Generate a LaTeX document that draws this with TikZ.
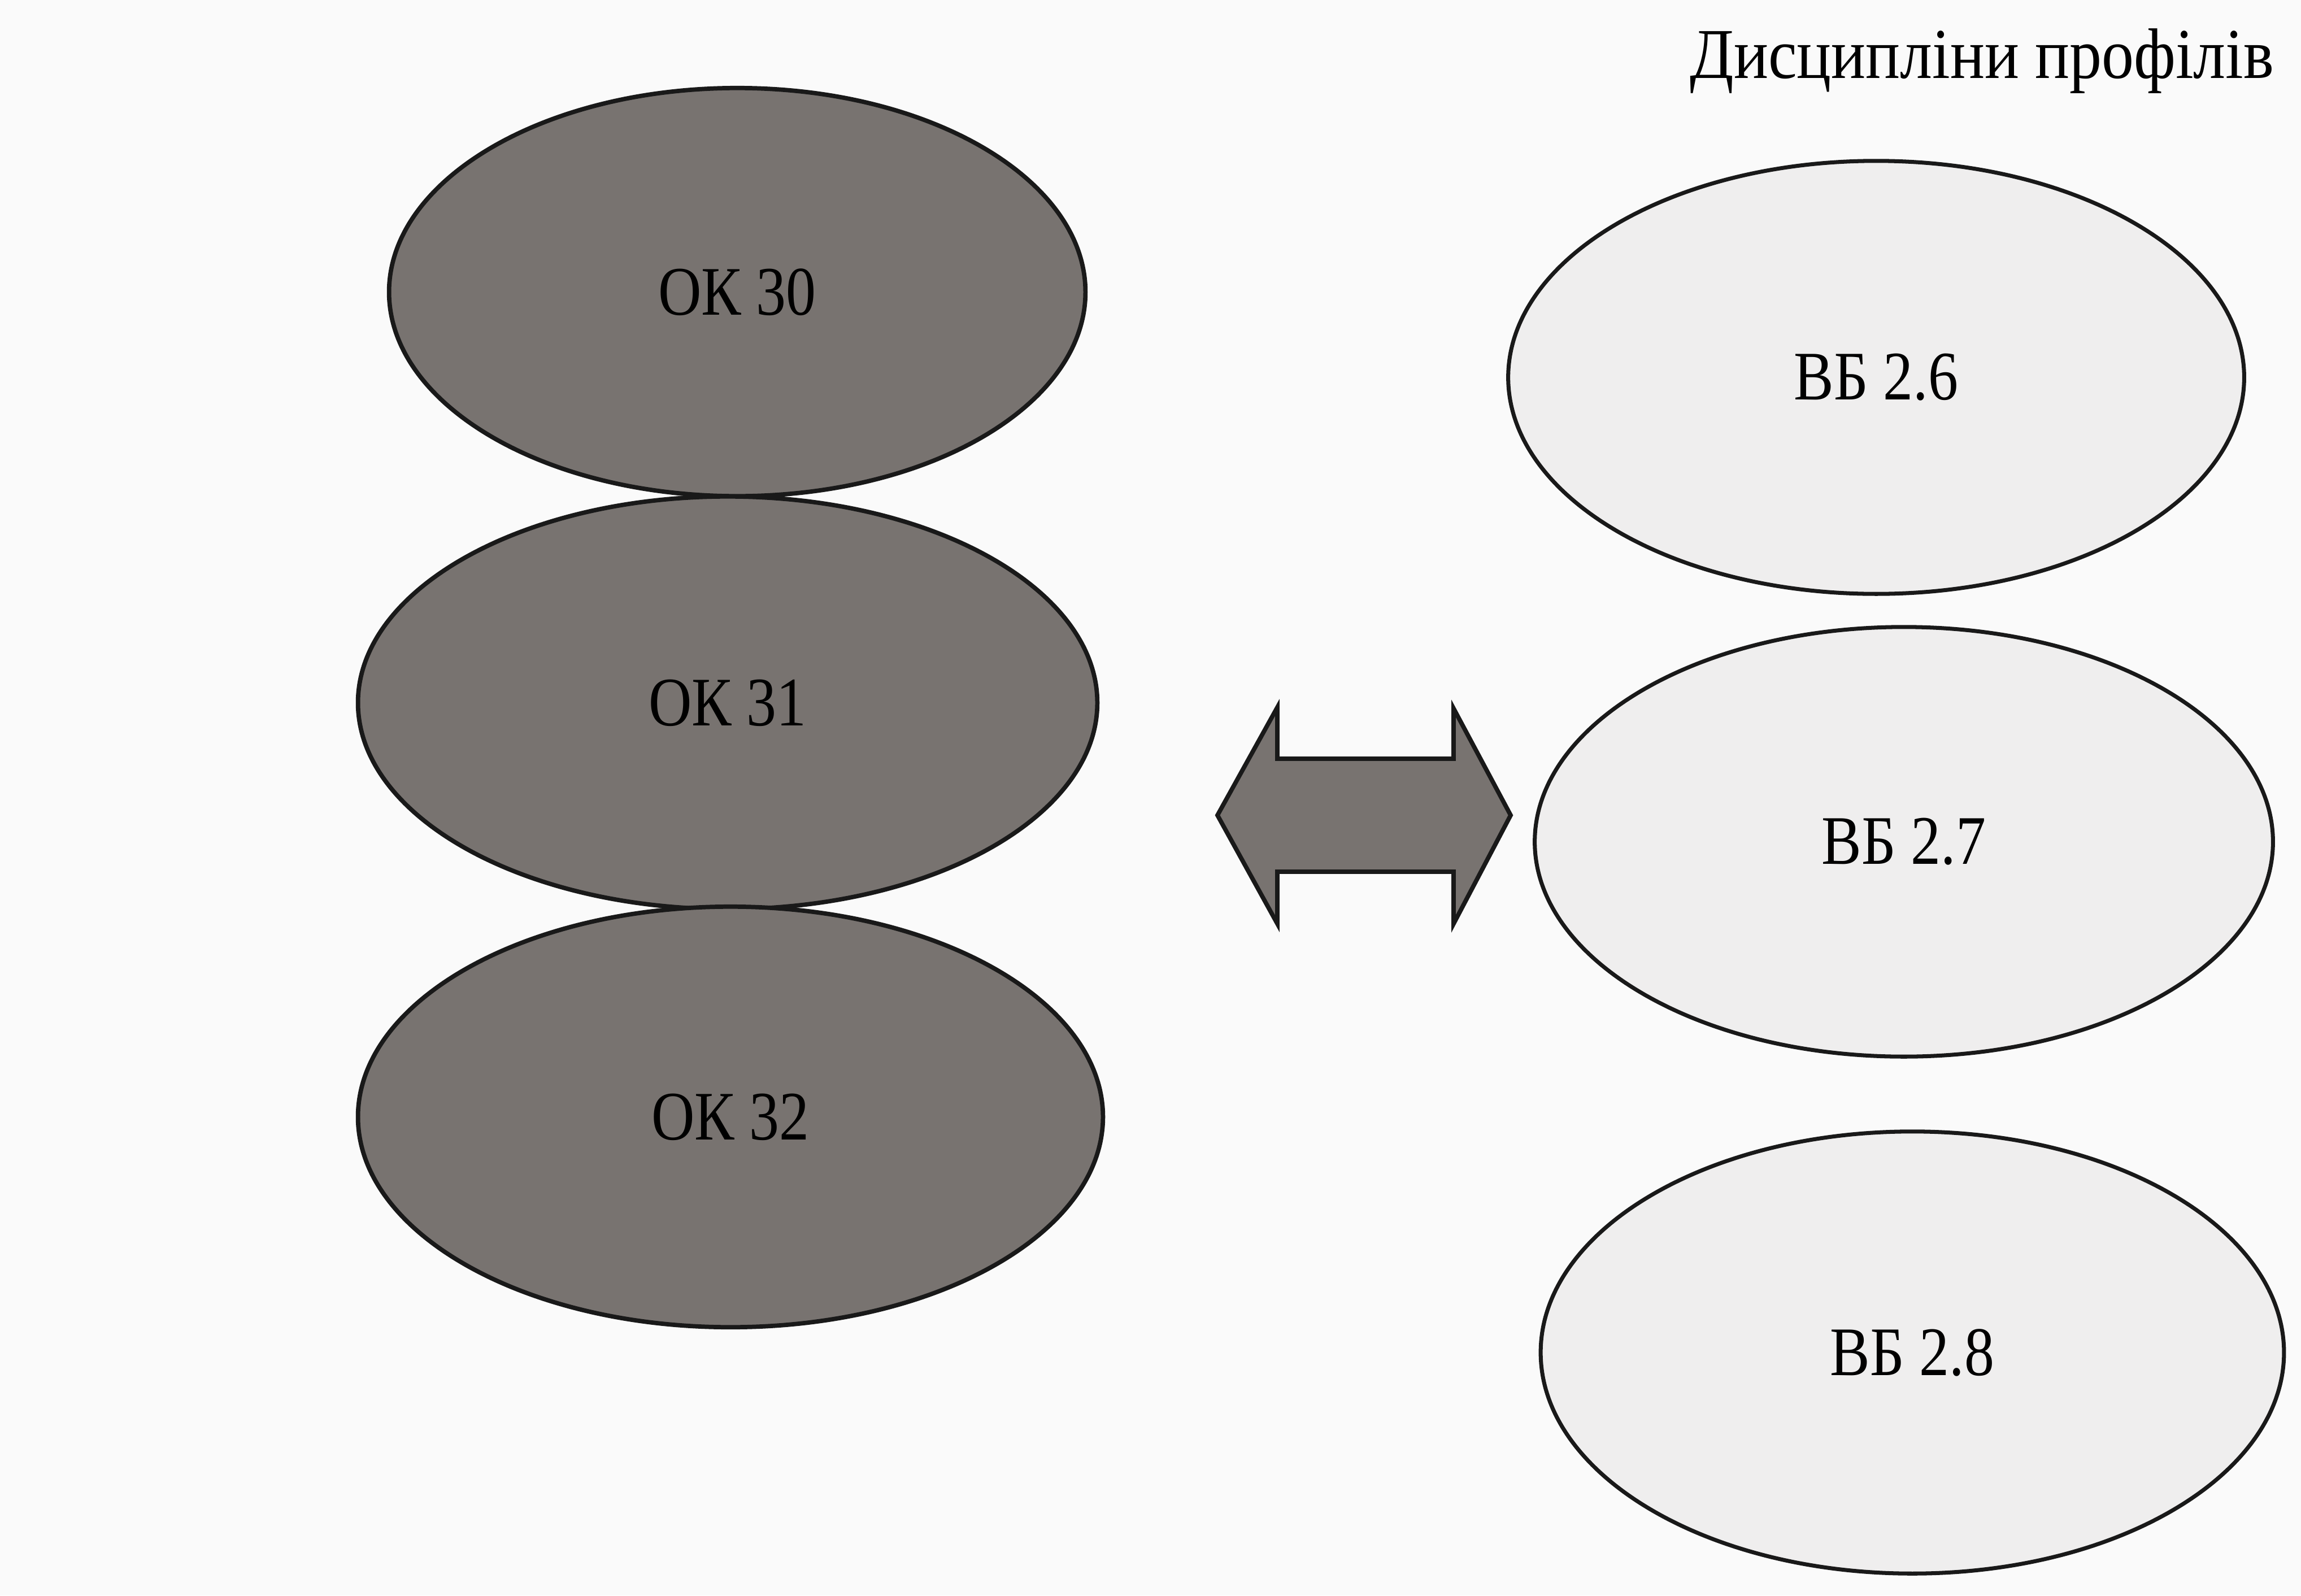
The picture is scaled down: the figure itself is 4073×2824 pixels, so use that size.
\documentclass[tikz,border=0pt]{standalone}
\usepackage{fontspec}
\setmainfont{Liberation Serif}[FakeStretch=0.86]
\newfontfamily\titlefont{Liberation Serif}[FakeStretch=0.90]
\usetikzlibrary{shapes.geometric}
\definecolor{darkfill}{RGB}{120,115,112}
\definecolor{lightfill}{RGB}{239,238,238}
\definecolor{paper}{RGB}{250,250,250}
\definecolor{edge}{RGB}{25,25,25}
\tikzset{
  darkell/.style={ellipse, draw=edge, line width=2.2pt, fill=darkfill, inner sep=0pt, font=\fontsize{35}{42}\selectfont},
  lightell/.style={ellipse, draw=edge, line width=2pt, fill=lightfill, inner sep=0pt, font=\fontsize{35}{42}\selectfont},
  blockarrow/.style={draw=edge, line width=2.2pt, fill=darkfill, line join=miter},
  titletext/.style={inner sep=0pt, font=\titlefont\fontsize{36}{42}\selectfont}
}
\begin{document}
\begin{tikzpicture}[x=0.01cm,y=-0.01cm]
\fill[paper] (0,0) rectangle (4073,2824);
\useasboundingbox (0,0) rectangle (4073,2824);

\node[titletext, anchor=base east] (title) at (4026,138) {Дисципліни профілів};

\node[darkell, minimum width=12.32cm, minimum height=7.22cm] (ok30) at (1305,517) {ОК 30};
\node[darkell, minimum width=13.08cm, minimum height=7.30cm] (ok31) at (1288,1244) {ОК 31};
\node[darkell, minimum width=13.18cm, minimum height=7.44cm] (ok32) at (1293,1977) {ОК 32};

\node[lightell, minimum width=13.02cm, minimum height=7.66cm] (vb26) at (3321,668) {ВБ 2.6};
\node[lightell, minimum width=13.06cm, minimum height=7.60cm] (vb27) at (3370,1490) {ВБ 2.7};
\node[lightell, minimum width=13.15cm, minimum height=7.82cm] (vb28) at (3385,2394) {ВБ 2.8};

\coordinate (arrowL) at (2155,1443);
\coordinate (arrowR) at (2674,1443);
\draw[blockarrow] (arrowL) -- (2261,1252) -- (2261,1343) -- (2573,1343) -- (2573,1254)
  -- (arrowR) -- (2573,1635) -- (2573,1543) -- (2261,1543) -- (2261,1635) -- cycle;
\end{tikzpicture}
\end{document}
